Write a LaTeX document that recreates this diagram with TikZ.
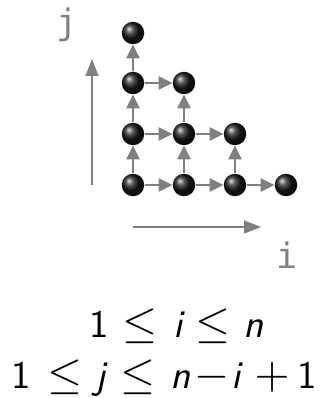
\documentclass[tikz,border=0pt]{standalone}
\usepackage{fontspec}
\newfontfamily\codefont{DejaVu Sans Mono}
\usetikzlibrary{arrows.meta}
\newcommand{\eqtok}[1]{\scalebox{3.9}{\sffamily #1}}
\newcommand{\eqsym}[1]{\scalebox{4.5}{$\mkern-1.5mu#1\mkern-1.5mu$}}
\newcommand{\lbltok}[1]{\scalebox{3.5}{\codefont #1}}
\begin{document}
\begin{tikzpicture}[x=1pt,y=-1pt,
  ballnode/.style={circle,minimum size=22.5pt,inner sep=0pt,shading=ball,ball color=black!90},
  flow/.style={draw=gray,line width=2.6pt,-{Triangle[length=14pt,width=13pt]},shorten <=0.5pt,shorten >=0pt},
  axis/.style={draw=gray,line width=1.6pt,-{Triangle[length=17pt,width=13pt]}},
  lbl/.style={text=gray,inner sep=0pt,anchor=base},
  eq/.style={inner sep=0pt,anchor=base}]
\useasboundingbox (0,0) rectangle (326,398);
% balls
\foreach \i/\x in {1/133,2/184,3/235,4/286}{
  \node[ballnode] (b\i1) at (\x,185) {};}
\foreach \i/\x in {1/133,2/184,3/235}{
  \node[ballnode] (b\i2) at (\x,134) {};}
\foreach \i/\x in {1/133,2/184}{
  \node[ballnode] (b\i3) at (\x,83) {};}
\node[ballnode] (b14) at (133,33) {};
% arrows
\draw[flow] (b11) -- (b21); \draw[flow] (b21) -- (b31); \draw[flow] (b31) -- (b41);
\draw[flow] (b12) -- (b22); \draw[flow] (b22) -- (b32);
\draw[flow] (b13) -- (b23);
\draw[flow] (b11) -- (b12); \draw[flow] (b12) -- (b13); \draw[flow] (b13) -- (b14);
\draw[flow] (b21) -- (b22); \draw[flow] (b22) -- (b23);
\draw[flow] (b31) -- (b32);
% axes
\coordinate (vs) at (92,185); \coordinate (ve) at (92,59);
\coordinate (hs) at (133,227); \coordinate (he) at (261,227);
\draw[axis] (vs) -- (ve);
\draw[axis] (hs) -- (he);
\node[lbl] (jl) at (67,35) {\lbltok{j}};
\node[lbl] (il) at (287,268) {\lbltok{i}};
% equation line 1
\node[eq] (a1) at (99,337) {\eqtok{1}};
\node[eq] (a2) at (140,337) {\eqsym{\leq}};
\node[eq] (a3) at (178,337) {\eqtok{\itshape i}};
\node[eq] (a4) at (213,337) {\eqsym{\leq}};
\node[eq] (a5) at (254,337) {\eqtok{\itshape n}};
% equation line 2
\node[eq] (c1) at (21,388) {\eqtok{1}};
\node[eq] (c2) at (65,388) {\eqsym{\leq}};
\node[eq] (c3) at (101,388) {\eqtok{\itshape j}};
\node[eq] (c4) at (138,388) {\eqsym{\leq}};
\node[eq] (c5) at (181,388) {\eqtok{\itshape n}};
\node[eq] (c6) at (212,388) {\eqsym{-}};
\node[eq] (c7) at (236,388) {\eqtok{\itshape i}};
\node[eq] (c8) at (272,388) {\eqsym{+}};
\node[eq] (c9) at (307,388) {\eqtok{1}};
\end{tikzpicture}
\end{document}
